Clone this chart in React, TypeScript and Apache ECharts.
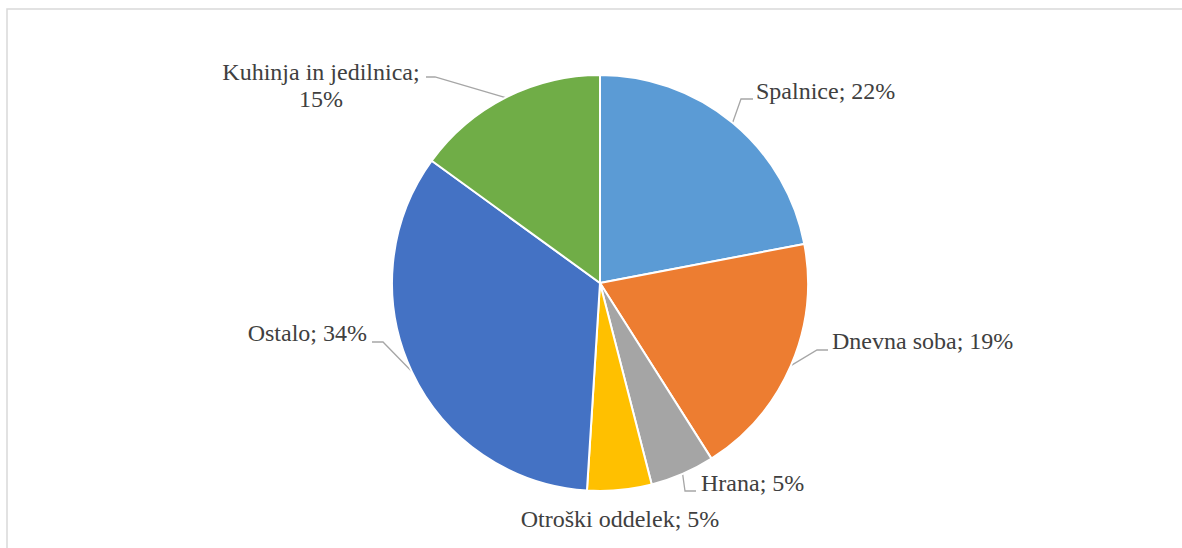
import React, { useEffect, useRef } from "react";
import * as echarts from "echarts";

// Share of sales by department (percent)
const categories = [
  "Spalnice",
  "Dnevna soba",
  "Hrana",
  "Otroški oddelek",
  "Ostalo",
  "Kuhinja in jedilnica",
];
const shares = [22, 19, 5, 5, 34, 15];
const colors = ["#5b9bd5", "#ed7d31", "#a5a5a5", "#ffc000", "#4472c4", "#70ad47"];

// Label placement (text anchor, leader-line elbow and end) per slice
type Placement = {
  x: number;
  y: number;
  align: "left" | "right" | "center";
  elbow?: [number, number];
  end?: [number, number];
  wrap?: boolean;
};
const placements: Placement[] = [
  { x: 756, y: 91, align: "left", elbow: [741, 99], end: [753, 99] },
  { x: 832, y: 341, align: "left", elbow: [817, 350], end: [828, 350] },
  { x: 701, y: 483, align: "left", elbow: [685, 491], end: [696, 491] },
  { x: 620, y: 519, align: "center" },
  { x: 367, y: 333, align: "right", elbow: [383, 342], end: [372, 342] },
  { x: 321, y: 85, align: "center", elbow: [435, 77], end: [426, 77], wrap: true },
];

const FONT = "Liberation Serif, Times New Roman, serif";

export default function App() {
  const ref = useRef<HTMLDivElement>(null);

  useEffect(() => {
    if (!ref.current) return;
    const chart = echarts.init(ref.current, undefined, { renderer: "svg" });

    const data = categories.map((name, i) => {
      const p = placements[i];
      return {
        name,
        value: shares[i],
        itemStyle: { color: colors[i] },
        label: p.wrap ? { formatter: "{b};\n{c}%" } : undefined,
        labelLine: { show: !!p.elbow },
      };
    });

    chart.setOption({
      animation: false,
      backgroundColor: "#ffffff",
      textStyle: { fontFamily: FONT },
      graphic: [
        {
          type: "rect",
          shape: { x: 7, y: 9, width: 1300, height: 700 },
          style: { fill: "none", stroke: "#d9d9d9", lineWidth: 1.5 },
          silent: true,
        },
      ],
      series: [
        {
          type: "pie",
          center: [600, 283],
          radius: 208,
          startAngle: 90,
          clockwise: true,
          avoidLabelOverlap: false,
          itemStyle: { borderColor: "#ffffff", borderWidth: 2 },
          label: {
            show: true,
            position: "outside",
            formatter: "{b}; {c}%",
            color: "#404040",
            fontFamily: FONT,
            fontSize: 24,
            lineHeight: 27,
          },
          labelLine: {
            show: true,
            length: 15,
            length2: 10,
            lineStyle: { color: "#a6a6a6", width: 1.3 },
          },
          labelLayout: (params: any) => {
            const p = placements[params.dataIndex];
            const res: any = {
              x: p.x,
              y: p.y,
              align: p.align,
              verticalAlign: "middle",
            };
            const pts = params.labelLinePoints;
            if (p.elbow && p.end && pts && pts[0]) {
              res.labelLinePoints = [pts[0], p.elbow, p.end];
            }
            return res;
          },
          emphasis: { disabled: true },
          data,
        },
      ],
    });

    return () => chart.dispose();
  }, []);

  return (
    <div
      ref={ref}
      style={{ position: "fixed", left: 0, top: 0, width: 1182, height: 548 }}
    />
  );
}
